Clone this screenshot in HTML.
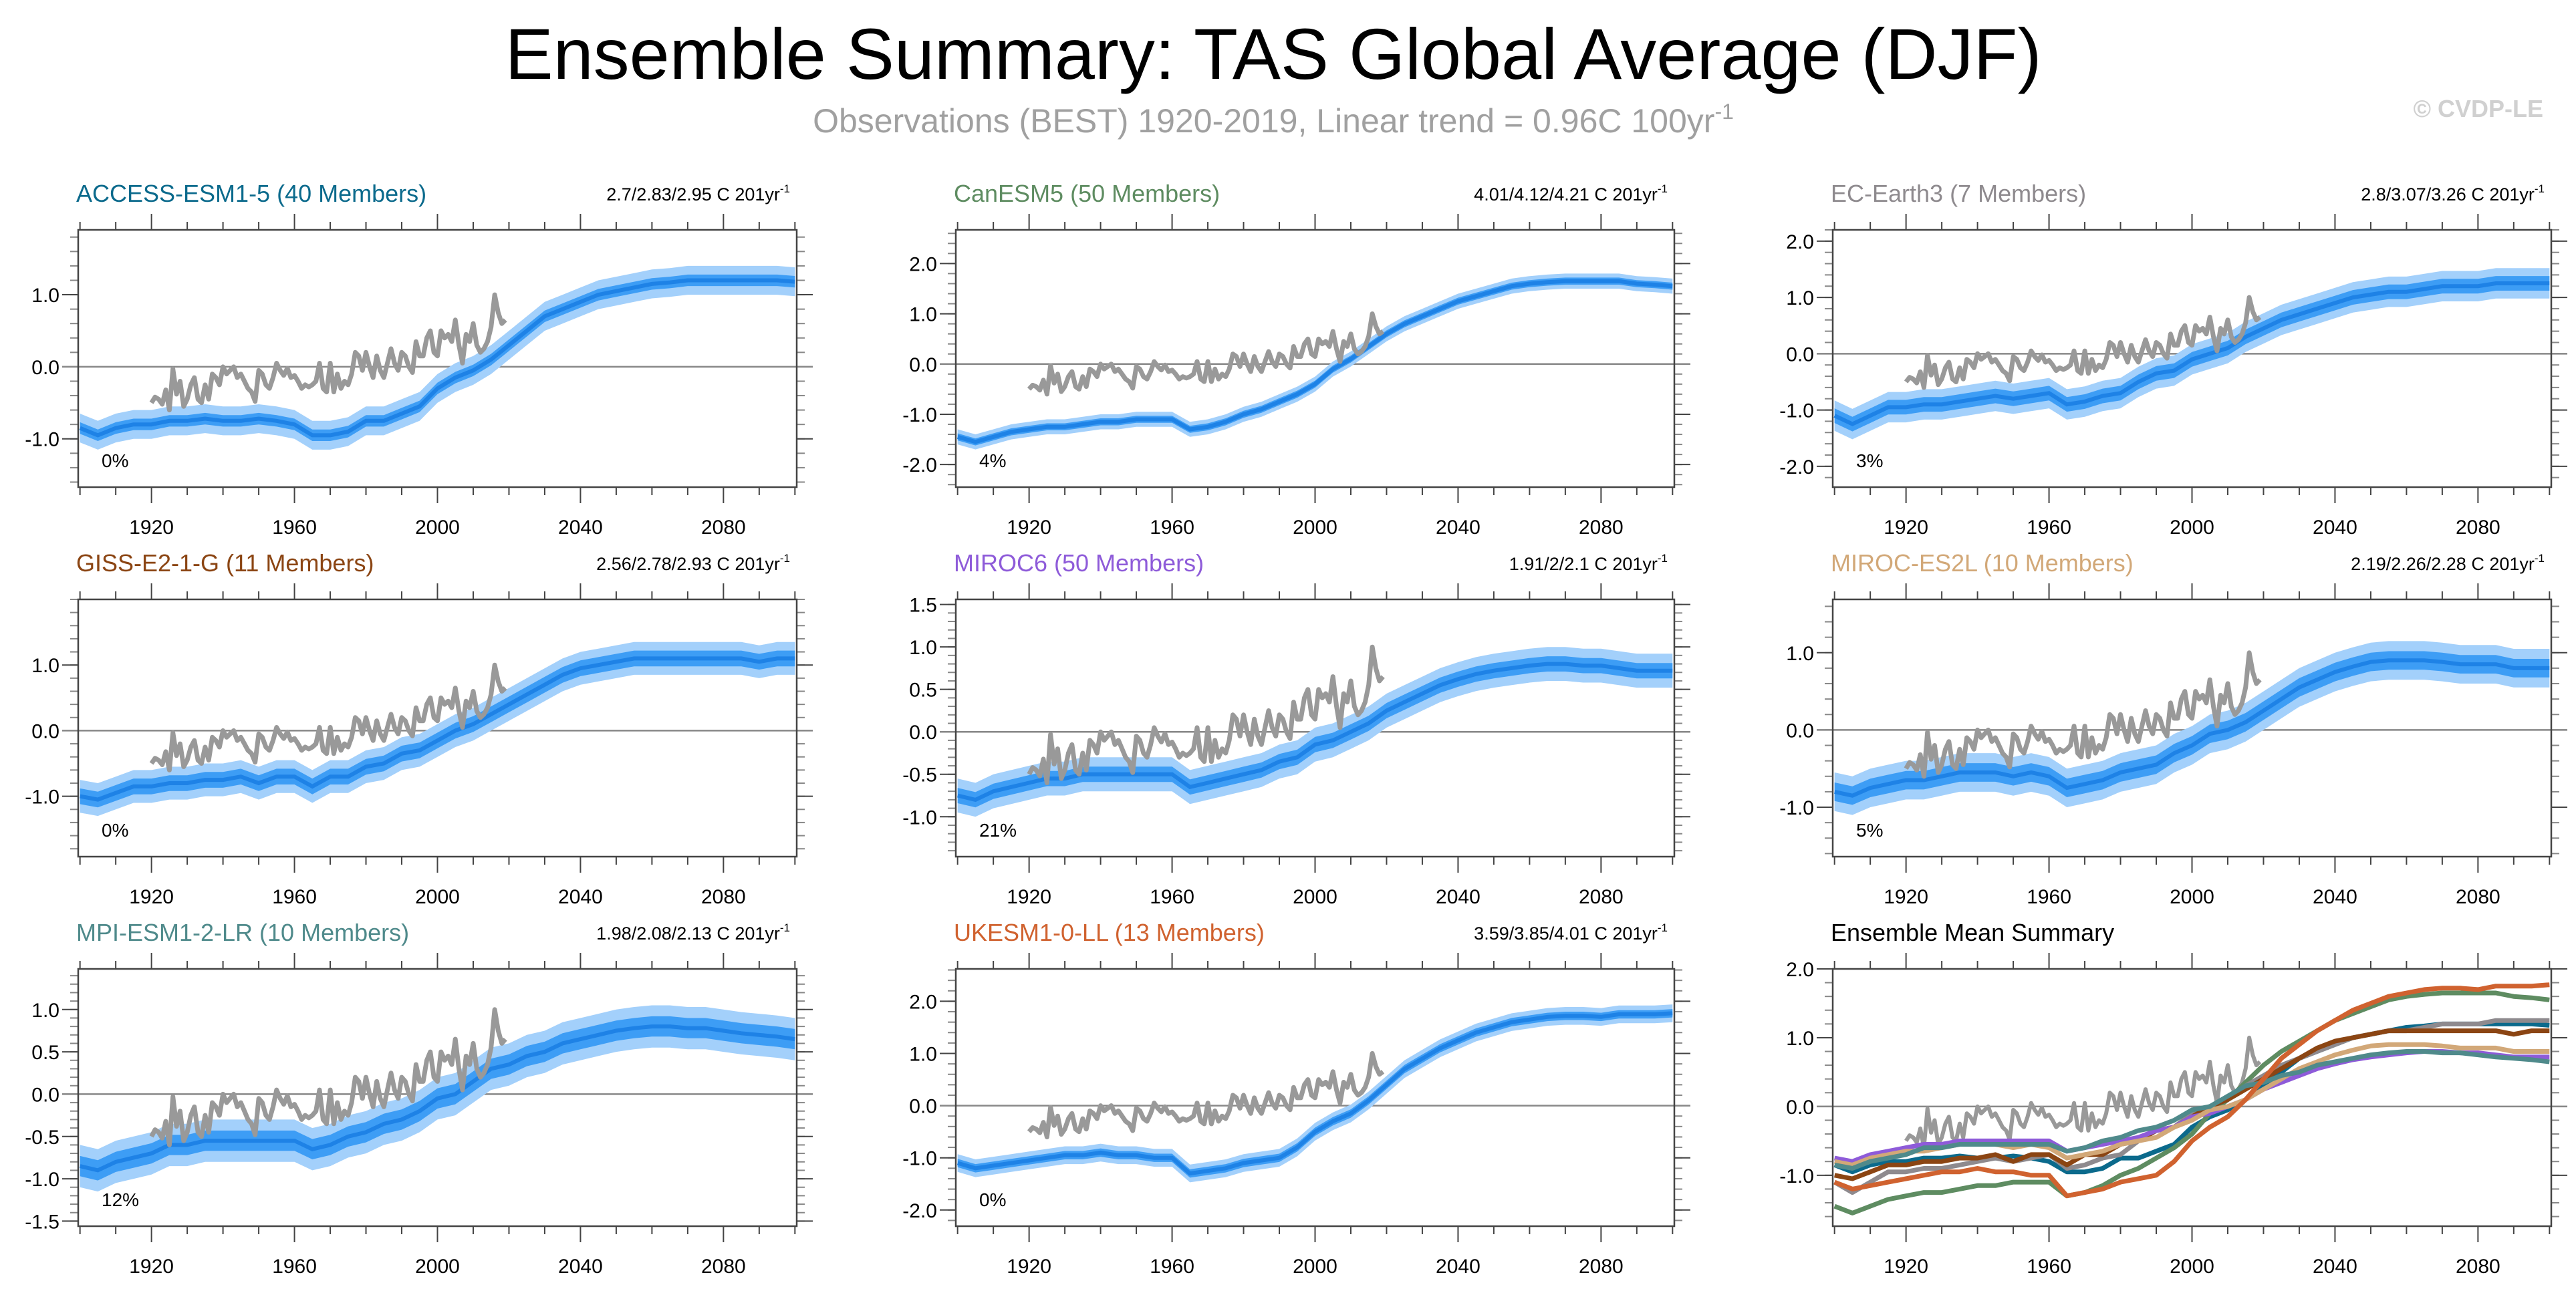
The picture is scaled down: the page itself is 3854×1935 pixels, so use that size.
<!DOCTYPE html>
<html><head><meta charset="utf-8"><style>
html,body{margin:0;padding:0;background:#fff;}
svg{display:block;font-family:"Liberation Sans",sans-serif;}
</style></head><body>
<svg id="chart" width="3854" height="1935" viewBox="0 0 3854 1935" xmlns="http://www.w3.org/2000/svg">
<text x="1905" y="118" font-size="108" text-anchor="middle" fill="#000">Ensemble Summary: TAS Global Average (DJF)</text>
<text x="1905" y="198" font-size="50" text-anchor="middle" fill="#a0a0a0">Observations (BEST) 1920-2019, Linear trend = 0.96C 100yr<tspan font-size="32" dy="-20">-1</tspan></text>
<text x="3805" y="175" font-size="36" font-weight="bold" text-anchor="end" fill="#d0d0d0">© CVDP-LE</text>
<g id="panels"></g>
</svg>
<script>
const obsYears0 = 1920;
const obsValues = [-0.5,-0.42,-0.45,-0.52,-0.32,-0.6,-0.03,-0.38,-0.2,-0.55,
-0.45,-0.25,-0.15,-0.45,-0.5,-0.25,-0.45,-0.1,-0.15,-0.25,
0.0,-0.1,-0.05,0.0,-0.15,-0.1,-0.2,-0.3,-0.35,-0.48,
-0.05,-0.1,-0.25,-0.3,-0.15,0.05,-0.05,-0.12,-0.02,-0.15,
-0.12,-0.2,-0.3,-0.25,-0.28,-0.25,-0.2,0.05,-0.3,-0.35,
0.05,-0.35,-0.1,-0.3,-0.2,-0.25,-0.1,0.2,0.15,-0.05,
0.2,0.0,-0.15,0.15,-0.05,-0.15,0.05,0.25,0.05,-0.05,
0.2,0.15,0.0,-0.08,0.35,0.15,0.15,0.4,0.5,0.2,
0.15,0.5,0.4,0.45,0.35,0.65,0.3,0.05,0.45,0.35,
0.6,0.3,0.2,0.25,0.35,0.55,1.0,0.75,0.6,0.65];
const modelYears = [1900,1905,1910,1915,1920,1925,1930,1935,1940,1945,1950,1955,1960,1965,1970,1975,1980,1985,1990,1995,2000,2005,2010,2015,2020,2025,2030,2035,2040,2045,2050,2055,2060,2065,2070,2075,2080,2085,2090,2095,2100];
const accessMean = [-0.85,-0.95,-0.85,-0.8,-0.8,-0.75,-0.75,-0.72,-0.75,-0.75,-0.72,-0.75,-0.8,-0.95,-0.95,-0.9,-0.75,-0.75,-0.65,-0.55,-0.3,-0.15,-0.05,0.1,0.3,0.5,0.7,0.8,0.9,1.0,1.05,1.1,1.15,1.17,1.2,1.2,1.2,1.2,1.2,1.2,1.18];
const canesmMean = [-1.45,-1.55,-1.45,-1.35,-1.3,-1.25,-1.25,-1.2,-1.15,-1.15,-1.1,-1.1,-1.1,-1.3,-1.25,-1.15,-1.0,-0.9,-0.75,-0.6,-0.4,-0.1,0.1,0.35,0.6,0.8,0.95,1.1,1.25,1.35,1.45,1.55,1.6,1.63,1.65,1.65,1.65,1.65,1.6,1.58,1.55];
const ecearthMean = [-1.1,-1.25,-1.1,-0.95,-0.95,-0.9,-0.9,-0.85,-0.8,-0.75,-0.8,-0.75,-0.7,-0.9,-0.85,-0.75,-0.7,-0.5,-0.35,-0.3,-0.1,0.0,0.1,0.3,0.45,0.6,0.7,0.8,0.9,1.0,1.05,1.1,1.1,1.15,1.2,1.2,1.2,1.25,1.25,1.25,1.25];
const gissMean = [-1.0,-1.05,-0.95,-0.85,-0.85,-0.8,-0.8,-0.75,-0.75,-0.7,-0.8,-0.7,-0.7,-0.85,-0.7,-0.7,-0.55,-0.5,-0.35,-0.3,-0.15,0.0,0.1,0.25,0.4,0.55,0.7,0.85,0.95,1.0,1.05,1.1,1.1,1.1,1.1,1.1,1.1,1.1,1.05,1.1,1.1];
const miroc6Mean = [-0.75,-0.8,-0.7,-0.65,-0.6,-0.55,-0.55,-0.5,-0.5,-0.5,-0.5,-0.5,-0.5,-0.65,-0.6,-0.55,-0.5,-0.45,-0.35,-0.3,-0.15,-0.1,0.0,0.1,0.25,0.35,0.45,0.55,0.62,0.68,0.72,0.75,0.78,0.8,0.8,0.78,0.78,0.75,0.72,0.72,0.72];
const es2lMean = [-0.8,-0.85,-0.75,-0.7,-0.65,-0.65,-0.6,-0.55,-0.55,-0.55,-0.6,-0.55,-0.6,-0.75,-0.7,-0.65,-0.55,-0.5,-0.45,-0.3,-0.2,-0.05,0.0,0.1,0.25,0.4,0.55,0.65,0.75,0.82,0.88,0.9,0.9,0.9,0.88,0.85,0.85,0.85,0.8,0.8,0.8];
const mpiMean = [-0.85,-0.9,-0.8,-0.75,-0.7,-0.6,-0.6,-0.55,-0.55,-0.55,-0.55,-0.55,-0.55,-0.65,-0.6,-0.5,-0.45,-0.35,-0.3,-0.2,-0.05,0.0,0.15,0.3,0.35,0.45,0.5,0.6,0.65,0.7,0.75,0.78,0.8,0.8,0.78,0.78,0.75,0.72,0.7,0.68,0.65];
const ukesmMean = [-1.1,-1.2,-1.15,-1.1,-1.05,-1.0,-0.95,-0.95,-0.9,-0.95,-0.95,-1.0,-1.0,-1.3,-1.25,-1.2,-1.1,-1.05,-1.0,-0.8,-0.5,-0.3,-0.15,0.1,0.4,0.7,0.9,1.1,1.25,1.4,1.5,1.6,1.65,1.7,1.72,1.72,1.7,1.75,1.75,1.75,1.77];
const modelNames = ["ACCESS-ESM1-5 (40 Members)","CanESM5 (50 Members)","EC-Earth3 (7 Members)","GISS-E2-1-G (11 Members)","MIROC6 (50 Members)","MIROC-ES2L (10 Members)","MPI-ESM1-2-LR (10 Members)","UKESM1-0-LL (13 Members)"];
const trendLabels = ["2.7/2.83/2.95 C 201yr","4.01/4.12/4.21 C 201yr","2.8/3.07/3.26 C 201yr","2.56/2.78/2.93 C 201yr","1.91/2/2.1 C 201yr","2.19/2.26/2.28 C 201yr","1.98/2.08/2.13 C 201yr","3.59/3.85/4.01 C 201yr"];
const pctLabels = ["0%","4%","3%","0%","21%","5%","12%","0%"];
const innerSpread = [0.08,0.07,0.13,0.12,0.09,0.12,0.12,0.08];
const outerSpread = [0.2,0.15,0.27,0.25,0.2,0.25,0.25,0.17];
const yMinArr = [-1.67,-2.45,-2.37,-1.92,-1.47,-1.64,-1.56,-2.31,-1.74];
const yMaxArr = [1.9,2.67,2.2,2.0,1.56,1.69,1.48,2.62,2.0];
const yTickArr = [[-1,0,1],[-2,-1,0,1,2],[-2,-1,0,1,2],[-1,0,1],[-1,-0.5,0,0.5,1,1.5],[-1,0,1],[-1.5,-1,-0.5,0,0.5,1],[-2,-1,0,1,2],[-1,0,1,2]];
const xTickLabels = [1920,1960,2000,2040,2080];

const means=[accessMean,canesmMean,ecearthMean,gissMean,miroc6Mean,es2lMean,mpiMean,ukesmMean];
const colors=["#0b6a8c","#5e8c61","#8e8a8e","#8b4513","#8e5bd9","#d2a878","#4f8a8b","#d0622f"];
const NS="http://www.w3.org/2000/svg";
const root=document.getElementById('panels');
function mk(tag,attrs,parent){const e=document.createElementNS(NS,tag);for(const k in attrs)e.setAttribute(k,attrs[k]);(parent||root).appendChild(e);return e;}
const colX=[117,1430,2742], rowY=[344,897,1450], W=1075, H=385;
function fmt(v){return v<0?'-'+Math.abs(v).toFixed(1):v.toFixed(1);}
for(let p=0;p<9;p++){
  const x0=colX[p%3], y0=rowY[Math.floor(p/3)];
  const g=mk('g',{});
  
  
  const ymin=yMinArr[p], ymax=yMaxArr[p];
  const X=yr=>x0+(yr-1899.5)/201*W;
  const Y=v=>y0+(ymax-v)/(ymax-ymin)*H;
  const t=mk('text',{x:x0-3,y:y0-42,'font-size':36,fill:p<8?colors[p]:'#000'},g);
  t.textContent=p<8?modelNames[p]:'Ensemble Mean Summary';
  
  
  if(p<8){
    const s=mk('text',{x:x0+W-10,y:y0-44,'font-size':27,'text-anchor':'end',fill:'#000'},g);
    s.innerHTML=trendLabels[p]+'<tspan font-size="17" dy="-12">-1</tspan>';
    
    
  }
  for(let yr=1900;yr<=2100;yr+=10){
    const major=(yr-1920)%40===0;
    const xx=X(yr);
    mk('line',{x1:xx,x2:xx,y1:y0,y2:y0-(major?24:12),stroke:'#444','stroke-width':2},g);
    mk('line',{x1:xx,x2:xx,y1:y0+H,y2:y0+H+(major?24:12),stroke:'#444','stroke-width':2},g);
  }
  xTickLabels.forEach(yr=>{const l=mk('text',{x:X(yr),y:y0+H+70,'font-size':30,'text-anchor':'middle',fill:'#000'},g);l.textContent=yr;
    
    });
  const minorStep=(yTickArr[p][1]-yTickArr[p][0])/5;
  for(let v=Math.ceil(ymin/minorStep)*minorStep;v<=ymax+1e-9;v+=minorStep){
    const yy=Y(v);
    mk('line',{x1:x0,x2:x0-12,y1:yy,y2:yy,stroke:'#888','stroke-width':2},g);
    mk('line',{x1:x0+W,x2:x0+W+12,y1:yy,y2:yy,stroke:'#888','stroke-width':2},g);
  }
  yTickArr[p].forEach(v=>{const yy=Y(v);
    mk('line',{x1:x0,x2:x0-24,y1:yy,y2:yy,stroke:'#444','stroke-width':2},g);
    mk('line',{x1:x0+W,x2:x0+W+24,y1:yy,y2:yy,stroke:'#444','stroke-width':2},g);
    const l=mk('text',{x:x0-28,y:yy+11,'font-size':30,'text-anchor':'end',fill:'#000'},g);l.textContent=fmt(v);
    
    });
  mk('line',{x1:x0-24,x2:x0+W+24,y1:Y(0),y2:Y(0),stroke:'#888','stroke-width':2.5},g);
  const clipId='clip'+p;
  const cp=mk('clipPath',{id:clipId},g);mk('rect',{x:x0,y:y0,width:W,height:H},cp);
  const inner=mk('g',{'clip-path':'url(#'+clipId+')'},g);
  const obsPts=obsValues.map((v,i)=>X(obsYears0+i).toFixed(1)+','+Y(v).toFixed(1)).join(' ');
  if(p<8){
    const m=means[p];
    const band=(d)=>{const up=m.map((v,i)=>X(modelYears[i]).toFixed(1)+','+Y(v+d).toFixed(1));
      const dn=m.map((v,i)=>X(modelYears[i]).toFixed(1)+','+Y(v-d).toFixed(1)).reverse();return up.concat(dn).join(' ');};
    const ob=mk('polygon',{points:band(outerSpread[p]),fill:'#a3d0fb'},inner);
    
    
    const ib=mk('polygon',{points:band(innerSpread[p]),fill:'#3d9df5'},inner);
    
    
    const ml=mk('polyline',{points:m.map((v,i)=>X(modelYears[i]).toFixed(1)+','+Y(v).toFixed(1)).join(' '),fill:'none',stroke:'#1e82e6','stroke-width':6},inner);
    
    
    const ol=mk('polyline',{points:obsPts,fill:'none',stroke:'#999','stroke-width':7,'stroke-linejoin':'round'},inner);
    
    
    const pc=mk('text',{x:x0+35,y:y0+H-30,'font-size':28,fill:'#000'},g);pc.textContent=pctLabels[p];
    
    
  } else {
    const ol=mk('polyline',{points:obsPts,fill:'none',stroke:'#999','stroke-width':6,'stroke-linejoin':'round'},inner);
    
    
    means.forEach((m,k)=>{
      const l=mk('polyline',{points:m.map((v,i)=>X(modelYears[i]).toFixed(1)+','+Y(v).toFixed(1)).join(' '),fill:'none',stroke:colors[k],'stroke-width':7,'stroke-linejoin':'round'},inner);
      
      
    });
  }
  mk('rect',{x:x0,y:y0,width:W,height:H,fill:'none',stroke:'#444','stroke-width':2.5},g);
}
</script>
</body></html>
